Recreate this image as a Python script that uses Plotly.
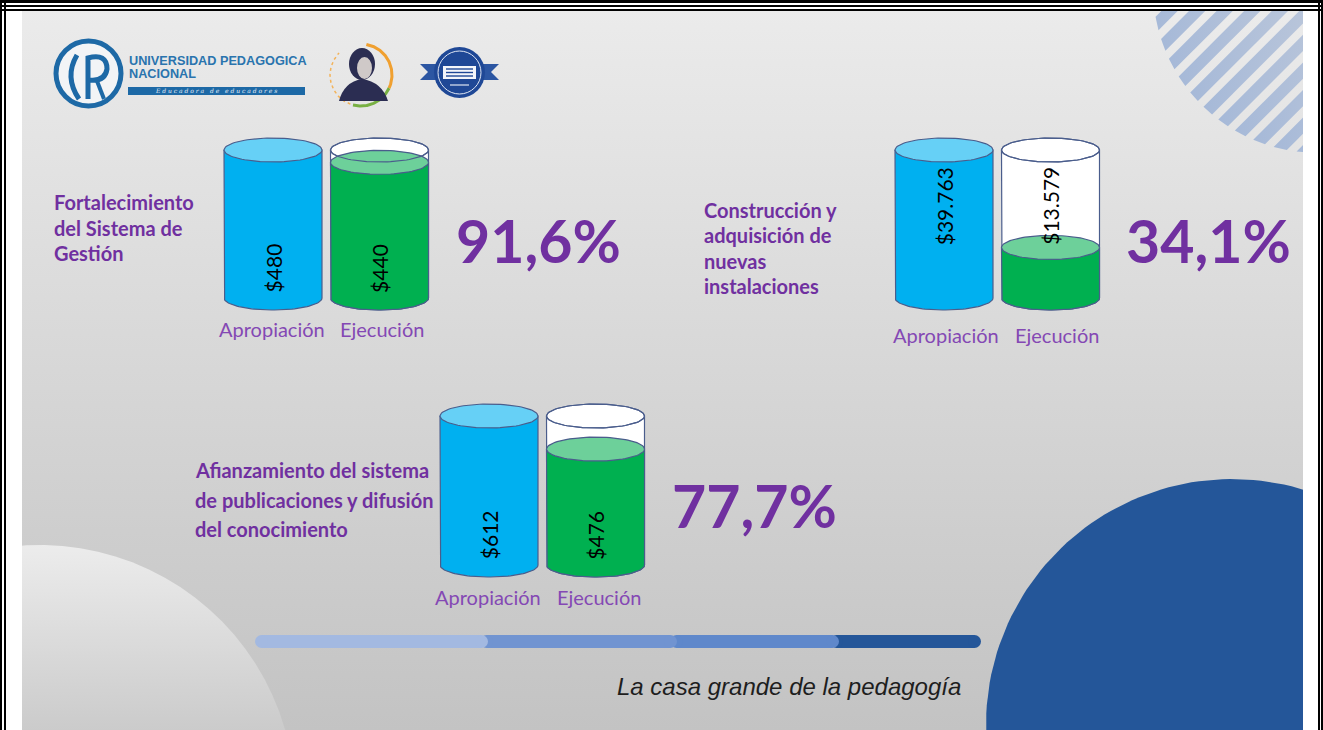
import numpy as np
import plotly.graph_objects as go

W, H = 1323, 730

# ---------------- data ----------------
programas = [
    "Fortalecimiento\ndel Sistema de\nGestión",
    "Construcción y\nadquisición de\nnuevas\ninstalaciones",
    "Afianzamiento del sistema\nde publicaciones y difusión\ndel conocimiento",
]
categorias = ["Apropiación", "Ejecución"]
apropiacion = [480, 39763, 612]
ejecucion = [440, 13579, 476]
porcentaje = [91.6, 34.1, 77.7]

# ---------------- panel placement (pixels) ----------------
paneles = [
    dict(cx=(273, 379.5), top=150, base=298, cat_y=329, cat_x=(272, 382), val_frac=(0.2, 0.2),
         pct_x=454, pct_y=240, tit_x=52, tit_y=(202, 227.5, 253)),
    dict(cx=(944, 1050.5), top=150, base=298, cat_y=335, cat_x=(946, 1057), val_frac=(0.62, 0.62),
         pct_x=1124, pct_y=240, tit_x=702, tit_y=(210, 235.5, 260.5, 286)),
    dict(cx=(489, 595.5), top=416, base=565, cat_y=597, cat_x=(488, 599), val_frac=(0.2, 0.2),
         pct_x=670, pct_y=505, tit_x=193, tit_y=(470, 499.5, 529)),
]
CYL_HALF_W = 49      # px
CYL_RY = 12          # px
PAD = 24             # px

PURPLE = "#7030a0"
PURPLE_LIGHT = "#8448b4"
EDGE = "#4a5d8c"
BLUE_BODY, BLUE_TOP = "#00b0f0", "#66d0f6"
GREEN_BODY, GREEN_TOP = "#00b050", "#6dd09a"

fig = go.Figure()
shapes = []
annotations = []


def ellipse_pts(xc, yc, rx, ry, a0=0.0, a1=2 * np.pi, n=90):
    t = np.linspace(a0, a1, n)
    return xc + rx * np.cos(t), yc + ry * np.sin(t)


def deco(x, y, fill=None, line_color=None, lw=0, grad=None):
    """Filled decoration polygon in page pixel coordinates."""
    kw = dict(x=list(x), y=list(y), mode="lines", hoverinfo="skip", showlegend=False,
              xaxis="x", yaxis="y")
    if fill is not None or grad is not None:
        kw["fill"] = "toself"
        if grad is not None:
            kw["fillgradient"] = grad
        else:
            kw["fillcolor"] = fill
    kw["line"] = dict(color=line_color or "rgba(0,0,0,0)", width=lw)
    fig.add_trace(go.Scatter(**kw))


# ---------------- slide background ----------------
deco([22, 1303, 1303, 22, 22], [10, 10, H, H, 10],
     grad=dict(type="vertical", colorscale=[[0, "#ebebeb"], [1, "#c3c3c3"]], start=10, stop=H))

# light disc in the lower-left corner
bx, by = ellipse_pts(40, 800, 255, 255)
deco(bx, by, grad=dict(type="vertical", colorscale=[[0, "#ececec"], [1, "#cbcbcb"]], start=545, stop=H))

# blue disc in the lower-right corner
bx, by = ellipse_pts(1232, 725, 246, 246, n=200)
deco(bx, by, fill="#245699")

# diagonal stripes in the upper-right corner
cxs, cys, R = 1318.0, -12.0, 165.0
s2 = np.sqrt(2)
uc, vc = (cxs + cys) / s2, (cxs - cys) / s2
u_start, period, band = 829.0, 19.5, 11.5
k = 0
while True:
    u1 = u_start + k * period
    u2 = u1 + band
    if u1 > uc + R:
        break
    uu = np.linspace(max(u1, uc - R), min(u2, uc + R), 30)
    half = np.sqrt(np.clip(R ** 2 - (uu - uc) ** 2, 0, None))
    us = np.concatenate([uu, uu[::-1]])
    vs = np.concatenate([vc + half, (vc - half)[::-1]])
    xs, ys = (us + vs) / s2, (us - vs) / s2
    deco(np.append(xs, xs[0]), np.append(ys, ys[0]),
         grad=dict(type="horizontal", colorscale=[[0, "#a6b9d8"], [1, "#d2d6dd"]]))
    k += 1

# ---------------- cylinders ----------------
for i, p in enumerate(paneles):
    s = str(i + 2)
    unit = p["cx"][1] - p["cx"][0]
    ppu = (p["base"] - p["top"]) / apropiacion[i]
    x_lo, x_hi = p["cx"][0] - 0.6 * unit, p["cx"][1] + 0.6 * unit
    fig.update_layout(**{
        "xaxis" + s: dict(domain=[x_lo / W, x_hi / W], range=[-0.6, 1.6], anchor="y" + s,
                          visible=False, fixedrange=True),
        "yaxis" + s: dict(domain=[1 - (p["base"] + PAD) / H, 1 - (p["top"] - PAD) / H],
                          range=[-PAD / ppu, apropiacion[i] + PAD / ppu], anchor="x" + s,
                          visible=False, fixedrange=True),
    })
    rx, ry = CYL_HALF_W / unit, CYL_RY / ppu

    def poly(x, y, fill, edge=EDGE, lw=1.2):
        fig.add_trace(go.Scatter(
            x=list(x), y=list(y), mode="lines", fill="toself" if fill else None,
            fillcolor=fill, line=dict(color=edge, width=lw),
            xaxis="x" + s, yaxis="y" + s, hoverinfo="skip", showlegend=False))

    def body(xc, h, fill):
        t = np.linspace(np.pi, 2 * np.pi, 60)
        xs = np.concatenate([[xc - rx], xc + rx * np.cos(t), [xc + rx, xc - rx]])
        ys = np.concatenate([[h], ry * np.sin(t), [h, h]])
        poly(xs, ys, fill)

    def cap(xc, h, fill):
        ex, ey = ellipse_pts(xc, h, rx, ry)
        poly(ex, ey, fill)

    # Apropiación
    body(0, apropiacion[i], BLUE_BODY)
    cap(0, apropiacion[i], BLUE_TOP)
    # Ejecución: empty glass filled up to the executed amount
    body(1, apropiacion[i], "#ffffff")
    cap(1, apropiacion[i], "#ffffff")
    body(1, ejecucion[i], GREEN_BODY)
    cap(1, ejecucion[i], GREEN_TOP)
    ex, ey = ellipse_pts(1, apropiacion[i], rx, ry)
    poly(ex, ey, None)

    # values inside the cylinders
    for j, v in enumerate([apropiacion[i], ejecucion[i]]):
        annotations.append(dict(
            x=j, y=p["val_frac"][j] * apropiacion[i], xref="x" + s, yref="y" + s,
            text="$" + f"{v:,}".replace(",", "."), textangle=-90, showarrow=False,
            font=dict(family="Lato", size=21, color="#000000")))
        annotations.append(dict(
            x=p["cat_x"][j] / W, y=1 - p["cat_y"] / H, xref="paper", yref="paper",
            text=categorias[j], showarrow=False, xanchor="center", yanchor="middle",
            font=dict(family="Lato", size=20, color=PURPLE_LIGHT)))

    # percentage
    annotations.append(dict(
        x=p["pct_x"] / W, y=1 - p["pct_y"] / H, xref="paper", yref="paper",
        text="<b>" + f"{porcentaje[i]:.1f}".replace(".", ",") + "%</b>", showarrow=False,
        xanchor="left", yanchor="middle", font=dict(family="Lato", size=59, color=PURPLE)))

    # programme title, one line per annotation
    for line, ty in zip(programas[i].split("\n"), p["tit_y"]):
        annotations.append(dict(
            x=p["tit_x"] / W, y=1 - ty / H, xref="paper", yref="paper", text="<b>" + line + "</b>",
            showarrow=False, xanchor="left", yanchor="middle",
            font=dict(family="Lato", size=20, color=PURPLE)))

# ---------------- progress bar at the bottom ----------------
bar_y0, bar_y1 = 635, 648
r = (bar_y1 - bar_y0) / 2
segs = [(830, 981, "#245699"), (670, 839, "#5f88cb"), (480, 677, "#7194d1"), (255, 488, "#a3b9e1")]
for x0, x1, c in segs:
    shapes.append(dict(type="rect", xref="x", yref="y", x0=x0 + r, x1=x1 - r, y0=bar_y0, y1=bar_y1,
                       fillcolor=c, line=dict(width=0), layer="above"))
    for xc in (x0 + r, x1 - r):
        shapes.append(dict(type="circle", xref="x", yref="y", x0=xc - r, x1=xc + r, y0=bar_y0,
                           y1=bar_y1, fillcolor=c, line=dict(width=0), layer="above"))

annotations.append(dict(x=963 / W, y=1 - 686 / H, xref="paper", yref="paper",
                        text="<i>La casa grande de la pedagogía</i>", showarrow=False,
                        xanchor="right", yanchor="middle",
                        font=dict(family="Liberation Sans", size=24, color="#1e1e1e")))

# ---------------- logos ----------------
UPN = "#1d69a6"
shapes += [
    dict(type="circle", xref="x", yref="y", x0=56, x1=121, y0=41, y1=106, fillcolor="#f2f4f6",
         line=dict(color=UPN, width=5), layer="above"),
    dict(type="path", xref="x", yref="y", path="M 77,55 Q 64,77 79,99",
         line=dict(color=UPN, width=5), layer="above"),
    dict(type="path", xref="x", yref="y", path="M 88,99 L 88,58 Q 107,53 107,69 Q 105,82 89,80",
         line=dict(color=UPN, width=5), layer="above"),
    dict(type="path", xref="x", yref="y", path="M 97,81 L 104,99",
         line=dict(color=UPN, width=4), layer="above"),
    dict(type="rect", xref="x", yref="y", x0=128, x1=305, y0=87, y1=95, fillcolor=UPN,
         line=dict(width=0), layer="above"),
]
annotations += [
    dict(x=127 / W, y=1 - 60.5 / H, xref="paper", yref="paper", text="<b>UNIVERSIDAD PEDAGOGICA</b>",
         showarrow=False, xanchor="left", yanchor="middle",
         font=dict(family="Liberation Sans", size=12.7, color="#2a74ae")),
    dict(x=127 / W, y=1 - 74.5 / H, xref="paper", yref="paper", text="<b>NACIONAL</b>",
         showarrow=False, xanchor="left", yanchor="middle",
         font=dict(family="Liberation Sans", size=12.7, color="#2a74ae")),
    dict(x=216 / W, y=1 - 91 / H, xref="paper", yref="paper", text="<i>E d u c a d o r a   d e   e d u c a d o r e s</i>",
         showarrow=False, xanchor="center", yanchor="middle",
         font=dict(family="DejaVu Serif", size=6, color="#e8eef6")),
]

# portrait emblem
ax_, ay_ = ellipse_pts(361, 75, 31, 31, np.radians(-80), np.radians(25))
fig.add_trace(go.Scatter(x=ax_, y=ay_, mode="lines", line=dict(color="#f0a030", width=3),
                         hoverinfo="skip", showlegend=False))
ax_, ay_ = ellipse_pts(361, 75, 31, 31, np.radians(25), np.radians(105))
fig.add_trace(go.Scatter(x=ax_, y=ay_, mode="lines", line=dict(color="#78b043", width=3),
                         hoverinfo="skip", showlegend=False))
ax_, ay_ = ellipse_pts(361, 75, 31, 31, np.radians(110), np.radians(225))
fig.add_trace(go.Scatter(x=ax_, y=ay_, mode="lines", line=dict(color="#f3b35a", width=1.5, dash="dot"),
                         hoverinfo="skip", showlegend=False))
shapes += [
    dict(type="path", xref="x", yref="y", path="M 339,101 Q 344,82 362,79 Q 382,82 388,101 Z",
         fillcolor="#2b2d52", line=dict(width=0), layer="above"),
    dict(type="circle", xref="x", yref="y", x0=349, x1=375, y0=48, y1=80, fillcolor="#2b2d52",
         line=dict(width=0), layer="above"),
    dict(type="circle", xref="x", yref="y", x0=357, x1=372, y0=57, y1=79, fillcolor="#cfc9c8",
         line=dict(width=0), layer="above"),
]

# accreditation seal
SEAL = "#1f4896"
shapes += [
    dict(type="path", xref="x", yref="y", path="M 420,64 L 447,64 L 447,80 L 420,80 L 428,72 Z",
         fillcolor="#2c56a2", line=dict(width=0), layer="above"),
    dict(type="path", xref="x", yref="y", path="M 499,64 L 472,64 L 472,80 L 499,80 L 491,72 Z",
         fillcolor="#2c56a2", line=dict(width=0), layer="above"),
    dict(type="circle", xref="x", yref="y", x0=434, x1=485, y0=47, y1=98, fillcolor=SEAL,
         line=dict(width=0), layer="above"),
    dict(type="circle", xref="x", yref="y", x0=438, x1=481, y0=51, y1=94, fillcolor="rgba(0,0,0,0)",
         line=dict(color="#dfe6f3", width=1), layer="above"),
    dict(type="rect", xref="x", yref="y", x0=443, x1=476, y0=66, y1=79, fillcolor="#f4f6fa",
         line=dict(width=0), layer="above"),
]
for yy in (69, 72.5, 76):
    shapes.append(dict(type="line", xref="x", yref="y", x0=446, x1=473, y0=yy, y1=yy,
                       line=dict(color=SEAL, width=1.4), layer="above"))
shapes.append(dict(type="line", xref="x", yref="y", x0=450, x1=469, y0=85, y1=85,
                   line=dict(color="#dfe6f3", width=1.2), layer="above"))

# ---------------- page margins and frame ----------------
for x0, x1, y0, y1 in [(0, 22, 0, H), (1303, W, 0, H), (0, W, 0, 10)]:
    shapes.append(dict(type="rect", xref="x", yref="y", x0=x0, x1=x1, y0=y0, y1=y1,
                       fillcolor="#ffffff", line=dict(width=0), layer="above"))
for x in (1, 5, 1319, 1322):
    shapes.append(dict(type="line", xref="x", yref="y", x0=x, x1=x, y0=0, y1=H,
                       line=dict(color="#000000", width=2), layer="above"))
for y, w in ((1.5, 3), (6, 2), (10, 2)):
    shapes.append(dict(type="line", xref="x", yref="y", x0=0, x1=W, y0=y, y1=y,
                       line=dict(color="#000000", width=w), layer="above"))

fig.update_layout(
    width=W, height=H, autosize=False,
    margin=dict(l=0, r=0, t=0, b=0, pad=0),
    paper_bgcolor="#ffffff", plot_bgcolor="rgba(0,0,0,0)",
    xaxis=dict(domain=[0, 1], range=[0, W], visible=False, fixedrange=True),
    yaxis=dict(domain=[0, 1], range=[H, 0], visible=False, fixedrange=True),
    showlegend=False, hovermode=False,
    shapes=shapes, annotations=annotations,
)

fig.write_html("out.html", config={"displayModeBar": False})
